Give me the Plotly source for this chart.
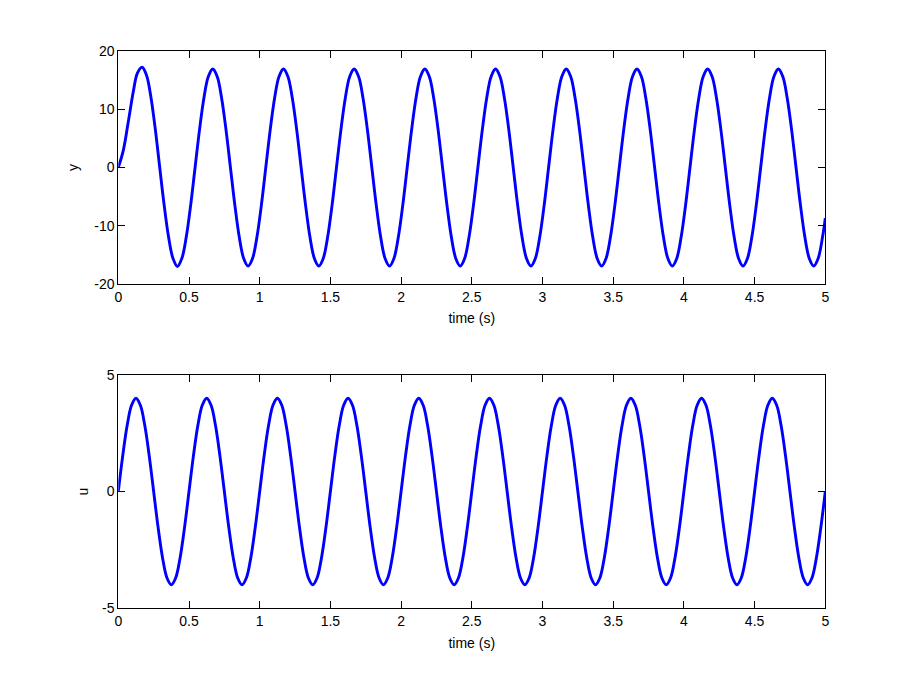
import plotly.graph_objects as go

# ---- data ----
# top panel: output y (start-up part, then steady oscillation)
y_time = [0.0, 0.035, 0.071, 0.106, 0.135, 0.168, 0.200, 0.230, 0.262,
          0.2930, 0.3243, 0.3555, 0.3868, 0.4180, 0.4493, 0.4805, 0.5118,
          0.5430, 0.5743, 0.6055, 0.6368, 0.6680, 0.6993, 0.7305, 0.7618,
          0.7930, 0.8243, 0.8555, 0.8868, 0.9180, 0.9493, 0.9805, 1.0118,
          1.0430, 1.0743, 1.1055, 1.1368, 1.1680, 1.1993, 1.2305, 1.2618,
          1.2930, 1.3243, 1.3555, 1.3868, 1.4180, 1.4493, 1.4805, 1.5118,
          1.5430, 1.5743, 1.6055, 1.6368, 1.6680, 1.6993, 1.7305, 1.7618,
          1.7930, 1.8243, 1.8555, 1.8868, 1.9180, 1.9493, 1.9805, 2.0118,
          2.0430, 2.0743, 2.1055, 2.1368, 2.1680, 2.1993, 2.2305, 2.2618,
          2.2930, 2.3243, 2.3555, 2.3868, 2.4180, 2.4493, 2.4805, 2.5118,
          2.5430, 2.5743, 2.6055, 2.6368, 2.6680, 2.6993, 2.7305, 2.7618,
          2.7930, 2.8243, 2.8555, 2.8868, 2.9180, 2.9493, 2.9805, 3.0118,
          3.0430, 3.0743, 3.1055, 3.1368, 3.1680, 3.1993, 3.2305, 3.2618,
          3.2930, 3.3243, 3.3555, 3.3868, 3.4180, 3.4493, 3.4805, 3.5118,
          3.5430, 3.5743, 3.6055, 3.6368, 3.6680, 3.6993, 3.7305, 3.7618,
          3.7930, 3.8243, 3.8555, 3.8868, 3.9180, 3.9493, 3.9805, 4.0118,
          4.0430, 4.0743, 4.1055, 4.1368, 4.1680, 4.1993, 4.2305, 4.2618,
          4.2930, 4.3243, 4.3555, 4.3868, 4.4180, 4.4493, 4.4805, 4.5118,
          4.5430, 4.5743, 4.6055, 4.6368, 4.6680, 4.6993, 4.7305, 4.7618,
          4.7930, 4.8243, 4.8555, 4.8868, 4.9180, 4.9493, 4.9805, 5.0]
y_vals = [0.0, 2.9, 7.9, 13.0, 16.2, 17.2, 15.8, 12.2, 6.5,
          0.0, -6.47, -11.95, -15.61, -17.0, -15.61, -11.95, -6.47,
          0.0, 6.47, 11.95, 15.61, 16.9, 15.61, 11.95, 6.47,
          0.0, -6.47, -11.95, -15.61, -16.9, -15.61, -11.95, -6.47,
          0.0, 6.47, 11.95, 15.61, 16.9, 15.61, 11.95, 6.47,
          0.0, -6.47, -11.95, -15.61, -16.9, -15.61, -11.95, -6.47,
          0.0, 6.47, 11.95, 15.61, 16.9, 15.61, 11.95, 6.47,
          0.0, -6.47, -11.95, -15.61, -16.9, -15.61, -11.95, -6.47,
          0.0, 6.47, 11.95, 15.61, 16.9, 15.61, 11.95, 6.47,
          0.0, -6.47, -11.95, -15.61, -16.9, -15.61, -11.95, -6.47,
          0.0, 6.47, 11.95, 15.61, 16.9, 15.61, 11.95, 6.47,
          0.0, -6.47, -11.95, -15.61, -16.9, -15.61, -11.95, -6.47,
          0.0, 6.47, 11.95, 15.61, 16.9, 15.61, 11.95, 6.47,
          0.0, -6.47, -11.95, -15.61, -16.9, -15.61, -11.95, -6.47,
          0.0, 6.47, 11.95, 15.61, 16.9, 15.61, 11.95, 6.47,
          0.0, -6.47, -11.95, -15.61, -16.9, -15.61, -11.95, -6.47,
          0.0, 6.47, 11.95, 15.61, 16.9, 15.61, 11.95, 6.47,
          0.0, -6.47, -11.95, -15.61, -16.9, -15.61, -11.95, -6.47,
          0.0, 6.47, 11.95, 15.61, 16.9, 15.61, 11.95, 6.47,
          0.0, -6.47, -11.95, -15.61, -16.9, -15.61, -11.95, -8.7]

# bottom panel: input u
u_time = [0.0, 0.03125, 0.0625, 0.09375, 0.125, 0.15625, 0.1875, 0.21875,
          0.25, 0.28125, 0.3125, 0.34375, 0.375, 0.40625, 0.4375, 0.46875,
          0.5, 0.53125, 0.5625, 0.59375, 0.625, 0.65625, 0.6875, 0.71875,
          0.75, 0.78125, 0.8125, 0.84375, 0.875, 0.90625, 0.9375, 0.96875,
          1.0, 1.03125, 1.0625, 1.09375, 1.125, 1.15625, 1.1875, 1.21875,
          1.25, 1.28125, 1.3125, 1.34375, 1.375, 1.40625, 1.4375, 1.46875,
          1.5, 1.53125, 1.5625, 1.59375, 1.625, 1.65625, 1.6875, 1.71875,
          1.75, 1.78125, 1.8125, 1.84375, 1.875, 1.90625, 1.9375, 1.96875,
          2.0, 2.03125, 2.0625, 2.09375, 2.125, 2.15625, 2.1875, 2.21875,
          2.25, 2.28125, 2.3125, 2.34375, 2.375, 2.40625, 2.4375, 2.46875,
          2.5, 2.53125, 2.5625, 2.59375, 2.625, 2.65625, 2.6875, 2.71875,
          2.75, 2.78125, 2.8125, 2.84375, 2.875, 2.90625, 2.9375, 2.96875,
          3.0, 3.03125, 3.0625, 3.09375, 3.125, 3.15625, 3.1875, 3.21875,
          3.25, 3.28125, 3.3125, 3.34375, 3.375, 3.40625, 3.4375, 3.46875,
          3.5, 3.53125, 3.5625, 3.59375, 3.625, 3.65625, 3.6875, 3.71875,
          3.75, 3.78125, 3.8125, 3.84375, 3.875, 3.90625, 3.9375, 3.96875,
          4.0, 4.03125, 4.0625, 4.09375, 4.125, 4.15625, 4.1875, 4.21875,
          4.25, 4.28125, 4.3125, 4.34375, 4.375, 4.40625, 4.4375, 4.46875,
          4.5, 4.53125, 4.5625, 4.59375, 4.625, 4.65625, 4.6875, 4.71875,
          4.75, 4.78125, 4.8125, 4.84375, 4.875, 4.90625, 4.9375, 4.96875,
          5.0]
u_vals = [0.0, 1.53, 2.83, 3.70, 4.0, 3.70, 2.83, 1.53,
          0.0, -1.53, -2.83, -3.70, -4.0, -3.70, -2.83, -1.53,
          0.0, 1.53, 2.83, 3.70, 4.0, 3.70, 2.83, 1.53,
          0.0, -1.53, -2.83, -3.70, -4.0, -3.70, -2.83, -1.53,
          0.0, 1.53, 2.83, 3.70, 4.0, 3.70, 2.83, 1.53,
          0.0, -1.53, -2.83, -3.70, -4.0, -3.70, -2.83, -1.53,
          0.0, 1.53, 2.83, 3.70, 4.0, 3.70, 2.83, 1.53,
          0.0, -1.53, -2.83, -3.70, -4.0, -3.70, -2.83, -1.53,
          0.0, 1.53, 2.83, 3.70, 4.0, 3.70, 2.83, 1.53,
          0.0, -1.53, -2.83, -3.70, -4.0, -3.70, -2.83, -1.53,
          0.0, 1.53, 2.83, 3.70, 4.0, 3.70, 2.83, 1.53,
          0.0, -1.53, -2.83, -3.70, -4.0, -3.70, -2.83, -1.53,
          0.0, 1.53, 2.83, 3.70, 4.0, 3.70, 2.83, 1.53,
          0.0, -1.53, -2.83, -3.70, -4.0, -3.70, -2.83, -1.53,
          0.0, 1.53, 2.83, 3.70, 4.0, 3.70, 2.83, 1.53,
          0.0, -1.53, -2.83, -3.70, -4.0, -3.70, -2.83, -1.53,
          0.0, 1.53, 2.83, 3.70, 4.0, 3.70, 2.83, 1.53,
          0.0, -1.53, -2.83, -3.70, -4.0, -3.70, -2.83, -1.53,
          0.0, 1.53, 2.83, 3.70, 4.0, 3.70, 2.83, 1.53,
          0.0, -1.53, -2.83, -3.70, -4.0, -3.70, -2.83, -1.53,
          0.0]

x_ticks = [0, 0.5, 1, 1.5, 2, 2.5, 3, 3.5, 4, 4.5, 5]
x_ticktext = ["0", "0.5", "1", "1.5", "2", "2.5", "3", "3.5", "4", "4.5", "5"]
y_ticks = [-20, -10, 0, 10, 20]
y_ticktext = ["-20", "-10", "0", "10", "20"]
u_ticks = [-5, 0, 5]
u_ticktext = ["-5", "0", "5"]

FONT = dict(family="Liberation Sans, Arial, Helvetica, sans-serif", size=14, color="black")
LINE = dict(color="#0000ff", width=2.9, shape="spline", smoothing=1.0)

fig = go.Figure()
fig.add_trace(go.Scatter(x=y_time, y=y_vals, mode="lines", line=LINE,
                         xaxis="x", yaxis="y", showlegend=False, hoverinfo="skip"))
fig.add_trace(go.Scatter(x=u_time, y=u_vals, mode="lines", line=LINE,
                         xaxis="x2", yaxis="y2", showlegend=False, hoverinfo="skip"))

W, H = 912, 684
OFF = 8  # page body margin shifts the figure by this many pixels
xdom = [(118.3 - OFF) / W, (825.3 - OFF) / W]
top_dom = [(H - (284 - OFF)) / H, (H - (51 - OFF)) / H]
bot_dom = [(H - (608 - OFF)) / H, (H - (375 - OFF)) / H]

axis_common = dict(showline=True, linecolor="black", linewidth=1, mirror="ticks",
                   ticks="inside", ticklen=7, tickwidth=1, tickcolor="black",
                   showgrid=False, zeroline=False, tickfont=FONT, automargin=False)

def xax(anchor, standoff):
    return dict(axis_common, domain=xdom, range=[0, 5], anchor=anchor,
                tickmode="array", tickvals=x_ticks, ticktext=x_ticktext,
                title=dict(text="time (s)", font=FONT, standoff=standoff))

def yax(anchor, dom, rng, tv, tt, label, standoff):
    return dict(axis_common, domain=dom, range=rng, anchor=anchor,
                tickmode="array", tickvals=tv, ticktext=tt,
                title=dict(text=label, font=FONT, standoff=standoff))

fig.update_layout(
    width=W, height=H,
    margin=dict(l=0, r=0, t=0, b=0),
    paper_bgcolor="white", plot_bgcolor="white",
    font=FONT,
    xaxis=xax("y", 9),
    yaxis=yax("x", top_dom, [-20, 20], y_ticks, y_ticktext, "y", 12),
    xaxis2=xax("y2", 10),
    yaxis2=yax("x2", bot_dom, [-5, 5], u_ticks, u_ticktext, "u", 10),
)

fig.write_html("out.html")
